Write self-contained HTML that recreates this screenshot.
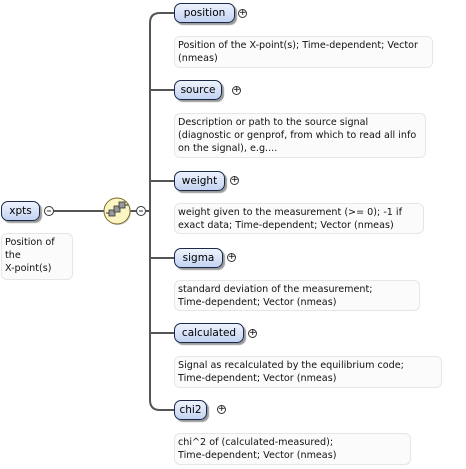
<!DOCTYPE html>
<html><head><style>
body{margin:0;width:466px;height:469px;background:#fff;position:relative;overflow:hidden;font-family:"DejaVu Sans","Liberation Sans",sans-serif;}
.el{position:absolute;border:1px solid #1b2a4a;border-radius:7px;background:linear-gradient(#eef3fd,#c2d3f2);box-shadow:2px 2px 1px #9a9a9a;font-size:10.5px;line-height:18px;text-align:center;color:#000;box-sizing:border-box;height:20px;}
.d{position:absolute;border:1px solid #e6e6e6;border-radius:6px;background:#fbfbfb;font-size:9.6px;line-height:13px;padding:2px 3px;box-sizing:border-box;color:#111;white-space:nowrap;}
.pl{position:absolute;width:9px;height:9px;border:1px solid #333;border-radius:50%;box-sizing:border-box;background:#fff;font-size:9px;line-height:7px;text-align:center;}
</style></head><body>
<svg width="466" height="469" style="position:absolute;left:0;top:0">
<g stroke="#555" stroke-width="2" fill="none">
<path d="M174 13 H160 Q150 13 150 23 V400 Q150 410 160 410 H174"/>
<path d="M150 90 H174 M150 181 H174 M150 258 H174 M150 333 H174"/>
<path d="M54 211 H104 M130 211 H136 M146 211 H150"/>
</g>
<ellipse cx="118" cy="212" rx="13" ry="13" fill="#999" opacity=".5"/>
<ellipse cx="117" cy="211" rx="13" ry="13" fill="#fbf5c4" stroke="#7a6a2a"/>
<g fill="#999" stroke="#333" stroke-width="0.8">
<rect x="109" y="210" width="6" height="6"/><rect x="114" y="206" width="6" height="6"/><rect x="119" y="202" width="6" height="6"/>
</g>
<path d="M106 213 H109 M125 205 H128" stroke="#333"/>
<circle cx="49" cy="211" r="4.5" fill="#fff" stroke="#333"/><path d="M47 211 H51" stroke="#333"/>
<circle cx="141" cy="211" r="4.5" fill="#fff" stroke="#333"/><path d="M139 211 H143" stroke="#333"/>
</svg>
<div class="el" style="left:1px;top:201px;width:39px">xpts</div>
<div class="d" style="left:1px;top:233px;width:72px;height:47px">Position of<br>the<br>X-point(s)</div>

<div class="el" style="left:174px;top:3px;width:61px">position</div>
<div class="pl" style="left:238px;top:9px">+</div>
<div class="d" style="left:174px;top:36px;width:259px;height:32px">Position of the X-point(s); Time-dependent; Vector<br>(nmeas)</div>

<div class="el" style="left:174px;top:80px;width:48px">source</div>
<div class="pl" style="left:232px;top:86px">+</div>
<div class="d" style="left:174px;top:113px;width:252px;height:45px">Description or path to the source signal<br>(diagnostic or genprof, from which to read all info<br>on the signal), e.g....</div>

<div class="el" style="left:174px;top:171px;width:51px">weight</div>
<div class="pl" style="left:230px;top:176px">+</div>
<div class="d" style="left:174px;top:203px;width:250px;height:31px">weight given to the measurement (&gt;= 0); -1 if<br>exact data; Time-dependent; Vector (nmeas)</div>

<div class="el" style="left:174px;top:248px;width:49px">sigma</div>
<div class="pl" style="left:227px;top:253px">+</div>
<div class="d" style="left:174px;top:280px;width:246px;height:31px">standard deviation of the measurement;<br>Time-dependent; Vector (nmeas)</div>

<div class="el" style="left:174px;top:323px;width:70px">calculated</div>
<div class="pl" style="left:248px;top:329px">+</div>
<div class="d" style="left:174px;top:356px;width:268px;height:32px">Signal as recalculated by the equilibrium code;<br>Time-dependent; Vector (nmeas)</div>

<div class="el" style="left:174px;top:400px;width:33px">chi2</div>
<div class="pl" style="left:217px;top:405px">+</div>
<div class="d" style="left:174px;top:433px;width:237px;height:32px">chi^2 of (calculated-measured);<br>Time-dependent; Vector (nmeas)</div>
</body></html>
